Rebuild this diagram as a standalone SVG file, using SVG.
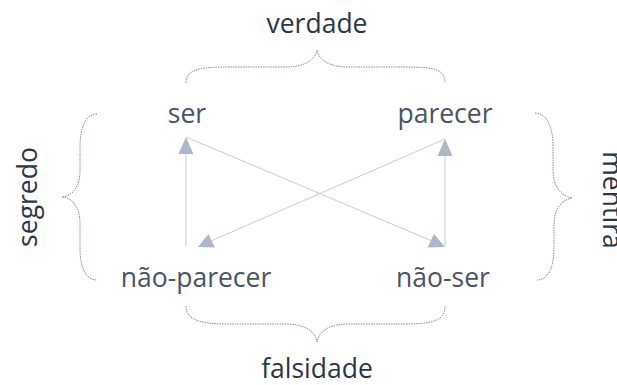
<svg xmlns="http://www.w3.org/2000/svg" width="617" height="385" viewBox="0 0 617 385">
<defs>
<style>
.title{font-family:"Open Sans","Noto Sans",sans-serif;font-size:26.5px;fill:#2b3748;text-anchor:middle}
.node{font-family:"Open Sans","Noto Sans",sans-serif;font-size:26.5px;fill:#4a5466;text-anchor:middle}
.brace{fill:none;stroke:#7f8ba0;stroke-width:1;stroke-dasharray:1.5 1}
.edge{fill:none;stroke:#c5cbd7;stroke-width:1}
.head{fill:#aeb7c9}
</style>
</defs>
<rect width="617" height="385" fill="#ffffff"/>
<g id="connectors">
<line class="edge" x1="186" y1="246" x2="186" y2="150"/>
<polygon class="head" points="186,137 178.5,154 193.5,154"/>
<line class="edge" x1="445" y1="246" x2="445" y2="152"/>
<polygon class="head" points="445,139 437.5,156 452.5,156"/>
<line class="edge" x1="186" y1="137" x2="432" y2="241"/>
<polygon class="head" points="445,247 427.5,247.5 434,234"/>
<line class="edge" x1="445" y1="139" x2="211" y2="241"/>
<polygon class="head" points="198,247 208.5,234 215,247.5"/>
</g>
<g id="brace-verdade">
<path class="brace" d="M186,83 C186,70 198,67 228,67 L285,67 C305,67 315,60 317,50 C319,60 329,67 349,67 L406,67 C436,67 445,70 445,83"/>
<text class="title" x="317" y="33">verdade</text>
</g>
<g id="brace-falsidade">
<path class="brace" d="M186,306 C186,319 198,324 228,324 L285,324 C305,324 315,331 317,342 C319,331 329,324 349,324 L406,324 C436,324 445,319 445,306"/>
<text class="title" x="317" y="378">falsidade</text>
</g>
<g id="brace-segredo">
<path class="brace" d="M97,114 C86,114 80,127 80,147 L80,170 C80,188 72,196 62,197 C72,198 80,206 80,224 L80,248 C80,268 86,280 97,280"/>
<text class="title" transform="translate(37,197) rotate(-90)" x="0" y="0">segredo</text>
</g>
<g id="brace-mentira">
<path class="brace" d="M535,113 C546,113 553,126 553,146 L553,170 C553,188 562,196 572,198 C562,200 554,208 554,226 L554,248 C554,268 548,280 537,280"/>
<text class="title" transform="translate(603,200) rotate(90)" x="0" y="0">mentira</text>
</g>
<g id="node-ser"><text class="node" x="187" y="123">ser</text></g>
<g id="node-parecer"><text class="node" x="445" y="123">parecer</text></g>
<g id="node-nao-parecer"><text class="node" x="196" y="287">não-parecer</text></g>
<g id="node-nao-ser"><text class="node" x="443" y="287">não-ser</text></g>
</svg>
